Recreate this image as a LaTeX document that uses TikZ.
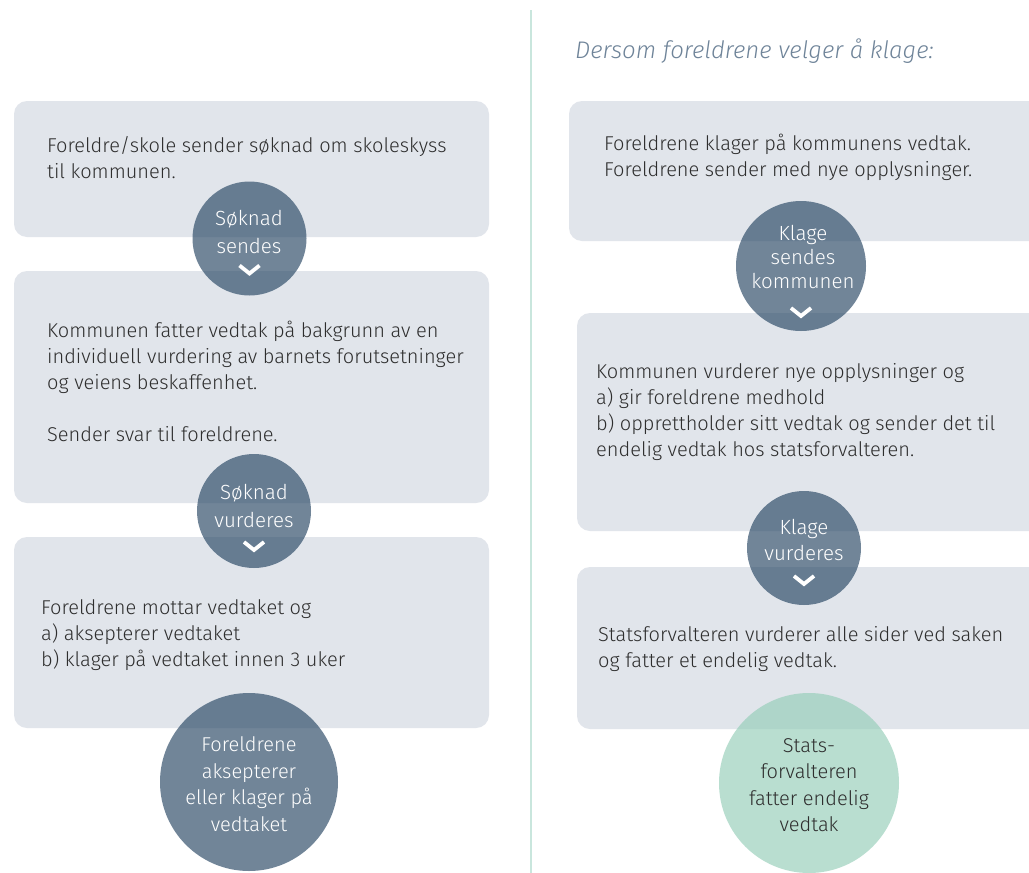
\documentclass[tikz,border=0pt]{standalone}
\usepackage{fontspec}
\setmainfont{Fira Sans Light}[ItalicFont={Fira Sans Light Italic}]
\definecolor{boxbg}{HTML}{E1E5EB}
\definecolor{circbg}{RGB}{37,68,98}
\definecolor{greenbg}{RGB}{148,205,183}
\definecolor{titlecol}{HTML}{6F8499}
\definecolor{txt}{HTML}{2E2E2E}
\definecolor{sepline}{HTML}{C9E6DD}
\begin{document}
\begin{tikzpicture}[x=1pt,y=-1pt,
  card/.style={fill=boxbg, rounded corners=13pt},
  disc/.style={circle, fill=#1, fill opacity=0.65, draw=none, inner sep=0pt},
  disc/.default=circbg,
  bodytext/.style={anchor=west, inner sep=0pt, align=left, text=txt,
     font=\fontsize{20}{26}\selectfont},
  disctext/.style={anchor=center, inner sep=0pt, align=center, text=white,
     font=\fontsize{20.5}{27.5}\selectfont},
  chev/.style={draw=white, line width=3.8pt, line join=miter}
]
\useasboundingbox (0,0) rectangle (1029,873);
\clip (0,0) rectangle (1029,873);
\fill[white] (0,0) rectangle (1029,873);

% separator
\draw[sepline, line width=1.5pt] (531,10) -- (531,873);

% title
\node[anchor=west, inner sep=0pt, text=titlecol, font=\fontsize{24}{28}\selectfont\itshape] (title) at (575,51) {Dersom foreldrene velger å klage:};

% left cards
\fill[card] (14,101) rectangle (489,237);
\fill[card] (14,271) rectangle (489,503);
\fill[card] (14,537) rectangle (489,728);
% right cards
\fill[card] (569,101) rectangle (1050,241);
\fill[card] (577,313) rectangle (1050,531);
\fill[card] (577,567) rectangle (1050,729);

% body texts
\node[bodytext] (t1) at (47,158) {Foreldre/skole sender søknad om skoleskyss\\til kommunen.};
\node[bodytext] (t2) at (47,381) {Kommunen fatter vedtak på bakgrunn av en\\individuell vurdering av barnets forutsetninger\\og veiens beskaffenhet.\\[26pt]Sender svar til foreldrene.};
\node[bodytext] (t3) at (41,635) {Foreldrene mottar vedtaket og\\a) aksepterer vedtaket\\b) klager på vedtaket innen 3 uker};
\node[bodytext] (r1) at (604,157) {Foreldrene klager på kommunens vedtak.\\Foreldrene sender med nye opplysninger.};
\node[bodytext] (r2) at (596,412) {Kommunen vurderer nye opplysninger og\\a) gir foreldrene medhold\\b) opprettholder sitt vedtak og sender det til\\endelig vedtak hos statsforvalteren.};
\node[bodytext] (r3) at (598,649) {Statsforvalteren vurderer alle sider ved saken\\og fatter et endelig vedtak.};

% circles
\node[disc, minimum size=114pt] (c1) at (249.5,238.5) {};
\node[disc, minimum size=114pt] (c2) at (254,511) {};
\node[disc, minimum size=178pt] (c3) at (249,782) {};
\node[disc, minimum size=130pt] (d1) at (801,266) {};
\node[disc, minimum size=114pt] (d2) at (804,548) {};
\node[disc=greenbg, minimum size=180pt] (d3) at (809,783) {};

% circle texts
\node[disctext] (c1t) at (249,232) {Søknad\\sendes};
\node[disctext] (c2t) at (254,506) {Søknad\\vurderes};
\node[disctext, font=\fontsize{20}{26.5}\selectfont] (c3t) at (249,784) {Foreldrene\\aksepterer\\eller klager på\\vedtaket};
\node[disctext, font=\fontsize{20.5}{24}\selectfont] (d1t) at (803,257) {Klage\\sendes\\kommunen};
\node[disctext, font=\fontsize{20.5}{25.5}\selectfont] (d2t) at (804,540) {Klage\\vurderes};
\node[disctext, text=txt, font=\fontsize{20}{26.5}\selectfont] (d3t) at (809,785) {Stats-\\forvalteren\\fatter endelig\\vedtak};

% chevrons
\draw[chev] ([shift={(-10,27)}]c1.center) -- ([shift={(0,35)}]c1.center) -- ([shift={(10,27)}]c1.center);
\draw[chev] ([shift={(-10,31)}]c2.center) -- ([shift={(0,39)}]c2.center) -- ([shift={(10,31)}]c2.center);
\draw[chev] ([shift={(-10,42)}]d1.center) -- ([shift={(0,50)}]d1.center) -- ([shift={(10,42)}]d1.center);
\draw[chev] ([shift={(-10,28)}]d2.center) -- ([shift={(0,36)}]d2.center) -- ([shift={(10,28)}]d2.center);
\end{tikzpicture}
\end{document}
